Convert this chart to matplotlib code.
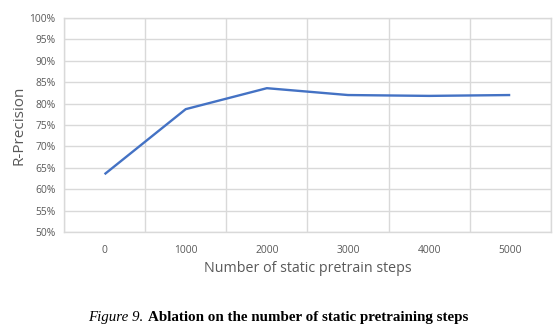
import matplotlib
matplotlib.use("Agg")
import matplotlib.pyplot as plt
from matplotlib.ticker import FuncFormatter, MultipleLocator

# datos
pasos = ["0", "1000", "2000", "3000", "4000", "5000"]
r_precision = [63.5, 78.7, 83.6, 82.0, 81.8, 82.0]
y_ticks = [50, 55, 60, 65, 70, 75, 80, 85, 90, 95, 100]

gris = "#595959"
rejilla = "#d9d9d9"

fig = plt.figure(figsize=(5.57, 3.32), dpi=100)
ax = fig.add_axes([0.1149, 0.3012, 0.874, 0.6446])

x = list(range(len(pasos)))
ax.plot(x, r_precision, color="#4472C4", linewidth=1.7, solid_capstyle="butt")

ax.set_xlim(-0.5, len(pasos) - 0.5)
ax.set_ylim(50, 100)
ax.set_yticks(y_ticks)
ax.yaxis.set_major_formatter(FuncFormatter(lambda v, p: f"{v:.0f}%"))
ax.set_xticks(x)
ax.set_xticklabels(pasos)
ax.xaxis.set_minor_locator(MultipleLocator(1, offset=0.5))

ax.grid(True, axis="y", which="major", color=rejilla, linewidth=1)
ax.grid(True, axis="x", which="minor", color=rejilla, linewidth=1)
ax.set_axisbelow(True)
for s in ax.spines.values():
    s.set_color(rejilla)
    s.set_linewidth(1)

ax.tick_params(axis="both", which="both", length=0, labelsize=7.4, labelcolor=gris)
ax.tick_params(axis="x", pad=9)
ax.tick_params(axis="y", pad=6)
for lab in ax.get_xticklabels() + ax.get_yticklabels():
    lab.set_family("Open Sans")

ax.set_ylabel("R-Precision", fontsize=11, color=gris, family="Open Sans", labelpad=2)
ax.set_xlabel("Number of static pretrain steps", fontsize=10.3, color=gris, family="Open Sans", labelpad=4)

# pie de figura
fig.canvas.draw()
r = fig.canvas.get_renderer()
t1 = fig.text(88 / 557, 1 - 318 / 332, "Figure 9.", fontsize=10.8, style="italic",
              family="Liberation Serif", va="center", ha="left")
bb = t1.get_window_extent(renderer=r)
x2 = (bb.x1 + 5) / fig.bbox.width
fig.text(x2, 1 - 318 / 332, "Ablation on the number of static pretraining steps", fontsize=10.8,
         weight="bold", family="Liberation Serif", va="center", ha="left")

fig.savefig("out.png", dpi=100)
